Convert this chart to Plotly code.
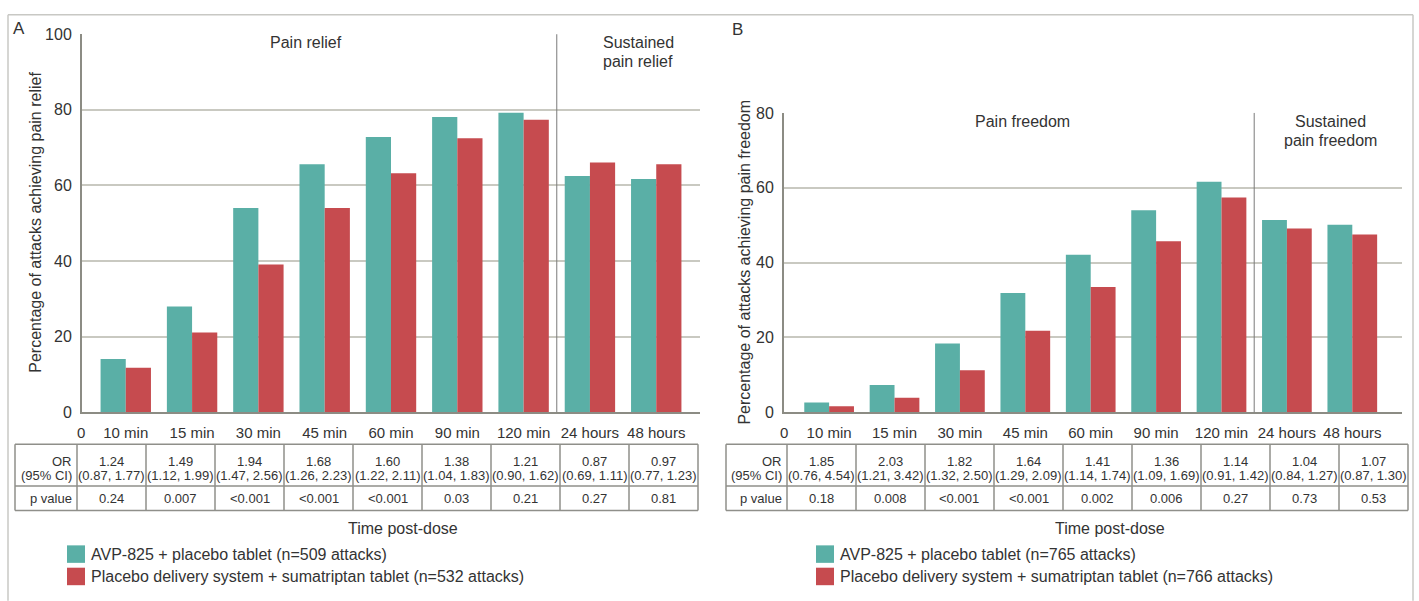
import plotly.graph_objects as go

# ---------------- data ----------------
categories = ["10 min", "15 min", "30 min", "45 min", "60 min", "90 min", "120 min", "24 hours", "48 hours"]

relief_avp = [14.1, 28.0, 54.0, 65.6, 72.8, 78.1, 79.2, 62.5, 61.7]
relief_suma = [11.8, 21.1, 39.1, 54.0, 63.2, 72.5, 77.4, 66.1, 65.6]

freedom_avp = [2.6, 7.3, 18.4, 31.9, 42.1, 54.0, 61.6, 51.4, 50.1]
freedom_suma = [1.6, 3.9, 11.2, 21.8, 33.5, 45.7, 57.4, 49.1, 47.5]

relief_or = ["1.24", "1.49", "1.94", "1.68", "1.60", "1.38", "1.21", "0.87", "0.97"]
relief_ci = ["(0.87, 1.77)", "(1.12, 1.99)", "(1.47, 2.56)", "(1.26, 2.23)", "(1.22, 2.11)",
             "(1.04, 1.83)", "(0.90, 1.62)", "(0.69, 1.11)", "(0.77, 1.23)"]
relief_p = ["0.24", "0.007", "<0.001", "<0.001", "<0.001", "0.03", "0.21", "0.27", "0.81"]

freedom_or = ["1.85", "2.03", "1.82", "1.64", "1.41", "1.36", "1.14", "1.04", "1.07"]
freedom_ci = ["(0.76, 4.54)", "(1.21, 3.42)", "(1.32, 2.50)", "(1.29, 2.09)", "(1.14, 1.74)",
              "(1.09, 1.69)", "(0.91, 1.42)", "(0.84, 1.27)", "(0.87, 1.30)"]
freedom_p = ["0.18", "0.008", "<0.001", "<0.001", "0.002", "0.006", "0.27", "0.73", "0.53"]

legend_a = ["AVP-825 + placebo tablet (n=509 attacks)",
            "Placebo delivery system + sumatriptan tablet (n=532 attacks)"]
legend_b = ["AVP-825 + placebo tablet (n=765 attacks)",
            "Placebo delivery system + sumatriptan tablet (n=766 attacks)"]

# ---------------- styling ----------------
W, H = 1419, 601
TEAL = "#5aafa6"
RED = "#c64b4f"
GRID = "#c9c9c1"
AXIS = "#8c8c84"
TXT = "#333333"
FONT = "Liberation Sans, Arial, sans-serif"
TFONT = "Liberation Sans Narrow, Liberation Sans, Arial, sans-serif"


def px(x):
    return x / W


def py(y):
    return 1 - y / H


fig = go.Figure()
fig.add_trace(go.Bar(x=categories, y=relief_avp, marker_color=TEAL, marker_line_width=0,
                     xaxis="x", yaxis="y", showlegend=False, name=legend_a[0]))
fig.add_trace(go.Bar(x=categories, y=relief_suma, marker_color=RED, marker_line_width=0,
                     xaxis="x", yaxis="y", showlegend=False, name=legend_a[1]))
fig.add_trace(go.Bar(x=categories, y=freedom_avp, marker_color=TEAL, marker_line_width=0,
                     xaxis="x2", yaxis="y2", showlegend=False, name=legend_b[0]))
fig.add_trace(go.Bar(x=categories, y=freedom_suma, marker_color=RED, marker_line_width=0,
                     xaxis="x2", yaxis="y2", showlegend=False, name=legend_b[1]))

xcommon = dict(type="category", categoryorder="array", categoryarray=categories,
               showgrid=False, showline=True, linecolor=AXIS, linewidth=2, ticks="",
               tickfont=dict(size=15, color=TXT, family=FONT), ticklabelstandoff=6,
               zeroline=False, fixedrange=True)
ycommon = dict(showgrid=True, gridcolor=GRID, gridwidth=1.5, showline=True, linecolor=AXIS,
               linewidth=2, ticks="", zeroline=False, fixedrange=True,
               tickfont=dict(size=16, color=TXT, family=FONT), ticklabelstandoff=5)

fig.update_layout(
    width=W, height=H, margin=dict(l=0, r=0, t=0, b=0),
    paper_bgcolor="white", plot_bgcolor="white",
    barmode="group", bargap=0.24, bargroupgap=0,
    font=dict(family=FONT, color=TXT),
    xaxis=dict(domain=[px(82), px(700)], range=[-0.66, 8.66], anchor="y", **xcommon),
    yaxis=dict(domain=[py(416), py(27)], range=[0, 100], tickvals=[0, 20, 40, 60, 80, 100],
               anchor="x", **ycommon),
    xaxis2=dict(domain=[px(784), px(1402)], range=[-0.69, 8.76], anchor="y2", **xcommon),
    yaxis2=dict(domain=[py(416), py(108)], range=[0, 80], tickvals=[0, 20, 40, 60, 80],
                anchor="x2", **ycommon),
)

shapes = []
ann = []


def text(x, y, s, size=15, xanchor="center", angle=0, family=FONT):
    ann.append(dict(x=px(x), y=py(y), xref="paper", yref="paper", text=s, showarrow=False,
                    xanchor=xanchor, yanchor="middle", textangle=angle,
                    font=dict(size=size, color=TXT, family=family)))


def line(x0, y0, x1, y1, color="#8f8f8a", width=1.5):
    shapes.append(dict(type="line", xref="paper", yref="paper", x0=px(x0), y0=py(y0),
                       x1=px(x1), y1=py(y1), line=dict(color=color, width=width)))


# outer frame
line(8, 7, 1413, 7, color="#c8c8c4", width=1.5)
line(8, 7, 8, 610, color="#c8c8c4", width=1.5)
line(1413, 7, 1413, 610, color="#c8c8c4", width=1.5)

# separators between relief and sustained relief
for xa, ya in [("x", "y domain"), ("x2", "y2 domain")]:
    shapes.append(dict(type="line", xref=xa, yref=ya, x0=6.5, x1=6.5, y0=0, y1=1,
                       line=dict(color="#7a7a7a", width=1)))

# panel letters
text(19, 21, "A", size=17)
text(737, 22, "B", size=17)

# section headers
text(306, 36, "Pain relief", size=16)
text(638, 36, "Sustained", size=16)
text(638, 55, "pain relief", size=16)
text(1022, 117, "Pain freedom", size=16)
text(1330, 117, "Sustained", size=16)
text(1330, 136, "pain freedom", size=16)

# y titles
text(36, 221, "Percentage of attacks achieving pain relief", size=16, angle=-90)
text(745, 262, "Percentage of attacks achieving pain freedom", size=16, angle=-90)

# "0" at x-axis origin
text(81, 437, "0", size=15)
text(784, 437, "0", size=15)


# tables
def table(left, lab_right, right, ors, cis, ps):
    top, mid, bot = 449, 492, 517
    for yy in (top, mid, bot):
        line(left, yy, right, yy)
    n = len(ors)
    cw = (right - lab_right) / n
    xs = [left, lab_right] + [lab_right + cw * (i + 1) for i in range(n)]
    for xx in xs:
        line(xx, top, xx, bot)
    fs = 13
    text(lab_right - 3, 467, "OR", size=fs, xanchor="right", family=TFONT)
    text(lab_right - 3, 481, "(95% CI)", size=fs, xanchor="right", family=TFONT)
    text(lab_right - 3, 505, "p value", size=fs, xanchor="right", family=TFONT)
    for i in range(n):
        cx = lab_right + cw * (i + 0.5)
        text(cx, 467, ors[i], size=fs, family=TFONT)
        text(cx, 481, cis[i], size=fs, family=TFONT)
        text(cx, 505, ps[i], size=fs, family=TFONT)


table(15, 77, 698, relief_or, relief_ci, relief_p)
table(726, 787, 1408, freedom_or, freedom_ci, freedom_p)

# x titles
text(403, 536, "Time post-dose", size=16)
text(1110, 536, "Time post-dose", size=16)


# custom legends
def legend(sq_x, txt_x, labels):
    for (y0, col, lab) in [(553, TEAL, labels[0]), (576, RED, labels[1])]:
        shapes.append(dict(type="rect", xref="paper", yref="paper", x0=px(sq_x), x1=px(sq_x + 18),
                           y0=py(y0 + 18), y1=py(y0), fillcolor=col, line=dict(width=0)))
        ann.append(dict(x=px(txt_x), y=py(y0 + 9), xref="paper", yref="paper", text=lab,
                        showarrow=False, xanchor="left", yanchor="middle",
                        font=dict(size=16, color=TXT, family=FONT)))


legend(67, 89, legend_a)
legend(816, 838, legend_b)

fig.update_layout(shapes=shapes, annotations=ann)
fig.write_html("out.html", config={"displayModeBar": False},
               post_script="document.body.style.margin='0';document.body.style.overflow='hidden';")
